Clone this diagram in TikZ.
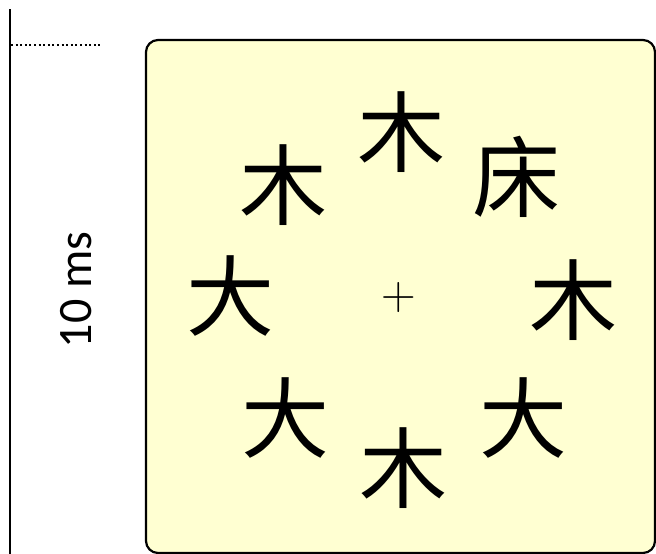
\documentclass[tikz,border=0pt]{standalone}
\usepackage{fontspec}
\newfontfamily\cjk{Noto Sans CJK SC}
\newfontfamily\lab{Carlito}
\definecolor{panel}{HTML}{FFFFD2}
\begin{document}
\begin{tikzpicture}[x=1pt,y=-1pt,
  hz/.style={inner sep=0pt,font=\cjk\fontsize{88}{88}\selectfont},
  fix/.style={inner sep=0pt,font=\fontsize{48}{48}\selectfont}]
\useasboundingbox (0,0) rectangle (656,554);
\coordinate (axtop) at (10,9);
\coordinate (axbot) at (10,556);
\draw[line width=2.2pt] (axtop) -- (axbot);
\coordinate (dl) at (11,45);
\coordinate (dr) at (102,45);
\draw[line width=1.8pt,dash pattern=on 2pt off 2.6pt] (dl) -- (dr);
\node[rotate=90,inner sep=0pt,font=\lab\fontsize{48}{48}\selectfont] (lbl) at (76,290) {10 ms};
\draw[line width=2.2pt,fill=panel,rounded corners=12pt] (146,40) rectangle (655,553);
\node[hz] (c1) at (401,132) {木};
\node[hz] (c2) at (516,177) {床};
\node[hz] (c3) at (283,185) {木};
\node[hz] (c4) at (230,296) {大};
\node[fix] (fx) at (399,298) {+};
\node[hz] (c5) at (573,300) {木};
\node[hz] (c6) at (285,418) {大};
\node[hz] (c7) at (523,418) {大};
\node[hz] (c8) at (403,468) {木};
\end{tikzpicture}
\end{document}
